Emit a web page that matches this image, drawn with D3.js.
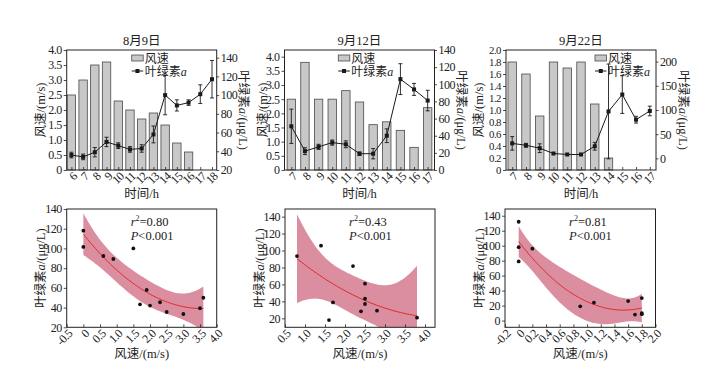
<!DOCTYPE html>
<html>
<head>
<meta charset="utf-8">
<script src="https://cdn.jsdelivr.net/npm/d3@7"></script>
<style>
  body { margin: 0; background: #fff; }
  text { font-family: "Liberation Serif", "Times New Roman", "Noto Sans CJK SC", serif; fill: #222; }
</style>
</head>
<body>
<script>
// ---- data ----
const days = ['8月9日', '9月12日', '9月22日']

// top row: hourly wind speed (bars) and chlorophyll a (line, with error)
const hours0809 = [6, 7, 8, 9, 10, 11, 12, 13, 14, 15, 16, 17, 18]
const wind0809 = [2.5, 3.0, 3.5, 3.6, 2.3, 2.0, 1.7, 1.9, 1.5, 0.9, 0.6, 0, 0]
const chl0809 = [36, 34, 39, 50, 46, 42, 43, 58, 100, 89, 92, 101, 117]
const err0809 = [3, 3, 5, 5, 3, 3, 4, 9, 21, 6, 3, 10, 20]

const hours0912 = [7, 8, 9, 10, 11, 12, 13, 14, 15, 16, 17]
const wind0912 = [2.5, 3.8, 2.5, 2.5, 2.8, 2.4, 1.6, 1.7, 1.4, 0.8, 2.2]
const chl0912 = [51, 22, 27, 32, 30, 19, 19, 40, 106, 94, 81]
const err0912 = [20, 4, 3, 3, 4, 2, 6, 8, 18, 7, 12]

const hours0922 = [7, 8, 9, 10, 11, 12, 13, 14, 15, 16, 17]
const wind0922 = [1.8, 1.6, 0.9, 1.8, 1.7, 1.8, 1.1, 0.2, 0, 0, 0]
const chl0922 = [31, 27, 21, 10, 8, 8, 25, 97, 132, 80, 98]
const err0922 = [14, 4, 9, 0, 0, 0, 8, 98, 39, 7, 10]

// bottom row: scatter points (wind, chlorophyll a)
const sWind0809 = [0, 0, 0.6, 0.9, 1.5, 1.7, 1.9, 2.0, 2.3, 2.5, 3.0, 3.5, 3.6]
const sChl0809 = [118, 101.5, 92.3, 89.3, 100, 43.3, 57.9, 42, 45.4, 35.5, 33.5, 39.3, 50]
const sWind0912 = [0.8, 1.4, 1.7, 1.6, 2.2, 2.5, 2.5, 2.5, 2.4, 2.8, 3.8]
const sChl0912 = [93.5, 105.7, 38.8, 17.9, 81.7, 60.9, 43.1, 36.9, 28.2, 29, 20.7]
const sWind0922 = [0, 0, 0, 0.2, 0.9, 1.1, 1.6, 1.7, 1.8, 1.8, 1.8]
const sChl0922 = [132, 98, 79, 96, 19, 24, 26, 8, 30, 8.5, 10]

const r2Labels = ['0.80', '0.43', '0.81']
const pLabel = '<0.001'

// axis ticks
const windTicksTop = [
  [0, 0.5, 1.0, 1.5, 2.0, 2.5, 3.0, 3.5, 4.0],
  [0, 0.5, 1.0, 1.5, 2.0, 2.5, 3.0, 3.5, 4.0],
  [0, 0.2, 0.4, 0.6, 0.8, 1.0, 1.2, 1.4, 1.6, 1.8, 2.0]
]
const chlTicksTop = [
  [20, 40, 60, 80, 100, 120, 140],
  [0, 20, 40, 60, 80, 100, 120, 140],
  [0, 50, 100, 150, 200]
]
const windTicksBot = [
  [-0.5, 0, 0.5, 1.0, 1.5, 2.0, 2.5, 3.0, 3.5, 4.0],
  [0.5, 1.0, 1.5, 2.0, 2.5, 3.0, 3.5, 4.0],
  [-0.2, 0, 0.2, 0.4, 0.6, 0.8, 1.0, 1.2, 1.4, 1.6, 1.8, 2.0]
]
const chlTicksBot = [
  [20, 40, 60, 80, 100, 120, 140],
  [20, 40, 60, 80, 100, 120, 140],
  [0, 20, 40, 60, 80, 100, 120, 140]
]

const hours = [hours0809, hours0912, hours0922]
const wind = [wind0809, wind0912, wind0922]
const chl = [chl0809, chl0912, chl0922]
const err = [err0809, err0912, err0922]
const sWind = [sWind0809, sWind0912, sWind0922]
const sChl = [sChl0809, sChl0912, sChl0922]

// ---- layout ----
const width = 722, height = 370
const topY = [170, 50], botY = [327.3, 209]
const topX = [[66.7, 216.7], [284.5, 434.5], [506, 656]]
const botX = [[66.7, 216.7], [285, 435], [505, 655.5]]
const topPad = [0.4, 0.5, 0.45]
const windDomTop = [[0, 4.0], [0, 4.235], [0, 2.0]]
const chlDomTop = [[20, 148.2], [0, 140], [-24.1, 224.1]]
const windDomBot = [[-0.5, 4.0], [0.5, 4.25], [-0.2, 2.0]]
const chlDomBot = [[20, 140], [9.4, 149], [-9, 149]]
const legendX = [131.7, 338.3, 595]
const leftLabelX = [45, 267, 483]
const leftTickSize = ['12px', '12px', '10.8px']
const t95 = {7: 2.365, 8: 2.306, 10: 2.228}

const fmt = d => d === 0 ? '0' : (Number.isInteger(d) && Math.abs(d) >= 10 ? String(d) : d.toFixed(1))
const fmtInt = d => String(d)

let svg = d3.select('body').append('svg')
  .attr('width', width)
  .attr('height', height)

svg.append('rect').attr('width', width).attr('height', height).attr('fill', '#fff')

function styleAxis(g, size = '12px') {
  g.select('.domain').remove()
  g.selectAll('line').attr('stroke', '#222').attr('stroke-width', 0.8)
  g.selectAll('text').style('font-size', size).style('letter-spacing', '-0.5px').attr('fill', '#222')
}

function rotateLabels(g) {
  g.selectAll('text')
    .attr('x', 0).attr('y', 0).attr('dy', 0)
    .attr('transform', 'translate(6,7) rotate(-45)')
    .style('text-anchor', 'end')
}

function chlLabel(sel) {
  sel.append('tspan').text('叶绿素')
  sel.append('tspan').style('font-style', 'italic').text('a')
  sel.append('tspan').text('/(μg/L)')
}

// ---- top row: bars + chlorophyll line ----
function drawTop(i) {
  const [x0, x1] = topX[i]
  const g = svg.append('g')
  const x = d3.scalePoint().domain(hours[i]).range([x0, x1]).padding(topPad[i])
  const yL = d3.scaleLinear().domain(windDomTop[i]).range(topY)
  const yR = d3.scaleLinear().domain(chlDomTop[i]).range(topY)
  const rows = hours[i].map((h, j) => ({h, w: wind[i][j], c: chl[i][j], e: err[i][j]}))

  g.selectAll('rect.bar').data(rows.filter(d => d.w > 0)).join('rect')
    .attr('x', d => x(d.h) - 4.2)
    .attr('width', 8.4)
    .attr('y', d => yL(d.w))
    .attr('height', d => yL(0) - yL(d.w))
    .attr('fill', '#c8c8c8')
    .attr('stroke', '#4a4a4a')
    .attr('stroke-width', 0.8)

  g.append('path').datum(rows)
    .attr('d', d3.line().x(d => x(d.h)).y(d => yR(d.c)))
    .attr('fill', 'none').attr('stroke', '#1a1a1a').attr('stroke-width', 1)

  let eb = g.selectAll('g.eb').data(rows.filter(d => d.e > 0)).join('g')
  eb.append('line')
    .attr('x1', d => x(d.h)).attr('x2', d => x(d.h))
    .attr('y1', d => yR(d.c - d.e)).attr('y2', d => yR(d.c + d.e))
  eb.append('line')
    .attr('x1', d => x(d.h) - 2).attr('x2', d => x(d.h) + 2)
    .attr('y1', d => yR(d.c - d.e)).attr('y2', d => yR(d.c - d.e))
  eb.append('line')
    .attr('x1', d => x(d.h) - 2).attr('x2', d => x(d.h) + 2)
    .attr('y1', d => yR(d.c + d.e)).attr('y2', d => yR(d.c + d.e))
  eb.selectAll('line').attr('stroke', '#1a1a1a').attr('stroke-width', 0.9)

  g.selectAll('rect.mk').data(rows).join('rect')
    .attr('x', d => x(d.h) - 2).attr('y', d => yR(d.c) - 2)
    .attr('width', 4).attr('height', 4).attr('fill', '#1a1a1a')

  // frame
  g.append('rect').attr('x', x0).attr('y', topY[1])
    .attr('width', x1 - x0).attr('height', topY[0] - topY[1])
    .attr('fill', 'none').attr('stroke', '#222').attr('stroke-width', 1)

  let gx = g.append('g').attr('transform', `translate(0,${topY[0]})`)
    .call(d3.axisBottom(x).tickSizeInner(-3).tickSizeOuter(0))
  styleAxis(gx); rotateLabels(gx)
  let gl = g.append('g').attr('transform', `translate(${x0},0)`)
    .call(d3.axisLeft(yL).tickValues(windTicksTop[i]).tickFormat(fmt).tickSize(3).tickPadding(2))
  styleAxis(gl, leftTickSize[i])
  let gr = g.append('g').attr('transform', `translate(${x1},0)`)
    .call(d3.axisRight(yR).tickValues(chlTicksTop[i]).tickFormat(fmtInt).tickSize(2.5).tickPadding(1.5))
  styleAxis(gr)

  // titles
  const cx = (x0 + x1) / 2
  g.append('text').attr('x', cx).attr('y', 44.5).attr('text-anchor', 'middle')
    .style('font-size', '12.5px').text(days[i])
  g.append('text').attr('x', cx).attr('y', 198).attr('text-anchor', 'middle')
    .style('font-size', '12.5px').text('时间/h')
  g.append('text').attr('transform', `translate(${leftLabelX[i]},110) rotate(-90)`)
    .attr('text-anchor', 'middle').style('font-size', '12.5px').text('风速/(m/s)')
  g.append('text').attr('transform', `translate(${x1 + 22.5},110) rotate(90)`)
    .attr('text-anchor', 'middle').style('font-size', '12.5px').call(chlLabel)

  // legend
  const lx = legendX[i]
  g.append('rect').attr('x', lx).attr('y', 55).attr('width', 11.5).attr('height', 6)
    .attr('fill', '#c8c8c8').attr('stroke', '#4a4a4a').attr('stroke-width', 0.8)
  g.append('text').attr('x', lx + 13).attr('y', 62.5).style('font-size', '12px').text('风速')
  g.append('line').attr('x1', lx).attr('x2', lx + 11.5).attr('y1', 71).attr('y2', 71)
    .attr('stroke', '#1a1a1a').attr('stroke-width', 1)
  g.append('rect').attr('x', lx + 3.75).attr('y', 69).attr('width', 4).attr('height', 4).attr('fill', '#1a1a1a')
  let lt = g.append('text').attr('x', lx + 13).attr('y', 75.5).style('font-size', '12px')
  lt.append('tspan').text('叶绿素')
  lt.append('tspan').style('font-style', 'italic').text('a')
}

// quadratic least squares with 95% confidence band
function quadFit(xs, ys) {
  const S = [[0, 0, 0], [0, 0, 0], [0, 0, 0]], b = [0, 0, 0]
  xs.forEach((xv, k) => {
    const r = [1, xv, xv * xv]
    for (let a = 0; a < 3; a++) {
      b[a] += r[a] * ys[k]
      for (let c = 0; c < 3; c++) S[a][c] += r[a] * r[c]
    }
  })
  const [[a, bb, c], [d, e, f], [gg, h, ii]] = S
  const det = a * (e * ii - f * h) - bb * (d * ii - f * gg) + c * (d * h - e * gg)
  const inv = [
    [(e * ii - f * h) / det, (c * h - bb * ii) / det, (bb * f - c * e) / det],
    [(f * gg - d * ii) / det, (a * ii - c * gg) / det, (c * d - a * f) / det],
    [(d * h - e * gg) / det, (bb * gg - a * h) / det, (a * e - bb * d) / det]
  ]
  const beta = inv.map(row => row[0] * b[0] + row[1] * b[1] + row[2] * b[2])
  const pred = xv => beta[0] + beta[1] * xv + beta[2] * xv * xv
  const sse = d3.sum(xs, (xv, k) => (ys[k] - pred(xv)) ** 2)
  const df = xs.length - 3
  const s2 = sse / df
  const t = t95[df] || 2.3
  const half = xv => {
    const r = [1, xv, xv * xv]
    let q = 0
    for (let m = 0; m < 3; m++) for (let n = 0; n < 3; n++) q += r[m] * inv[m][n] * r[n]
    return t * Math.sqrt(s2 * q)
  }
  return {pred, half}
}

// ---- bottom row: scatter + fit ----
function drawBottom(i) {
  const [x0, x1] = botX[i]
  const g = svg.append('g')
  const x = d3.scaleLinear().domain(windDomBot[i]).range([x0, x1])
  const y = d3.scaleLinear().domain(chlDomBot[i]).range(botY)
  const fit = quadFit(sWind[i], sChl[i])
  const [lo, hi] = d3.extent(sWind[i])
  const xsFit = d3.range(0, 81).map(k => lo + (hi - lo) * k / 80)

  const clip = g.append('clipPath').attr('id', 'clip' + i)
  clip.append('rect').attr('x', x0).attr('y', botY[1]).attr('width', x1 - x0).attr('height', botY[0] - botY[1])

  g.append('path').datum(xsFit)
    .attr('clip-path', `url(#clip${i})`)
    .attr('d', d3.area().x(d => x(d)).y0(d => y(fit.pred(d) - fit.half(d))).y1(d => y(fit.pred(d) + fit.half(d))))
    .attr('fill', '#dc8ea1')
  g.append('path').datum(xsFit)
    .attr('clip-path', `url(#clip${i})`)
    .attr('d', d3.line().x(d => x(d)).y(d => y(fit.pred(d))))
    .attr('fill', 'none').attr('stroke', '#e02a2a').attr('stroke-width', 1)

  g.selectAll('circle').data(sWind[i].map((w, j) => [w, sChl[i][j]])).join('circle')
    .attr('cx', d => x(d[0])).attr('cy', d => y(d[1])).attr('r', 1.9).attr('fill', '#111')

  g.append('rect').attr('x', x0).attr('y', botY[1])
    .attr('width', x1 - x0).attr('height', botY[0] - botY[1])
    .attr('fill', 'none').attr('stroke', '#222').attr('stroke-width', 1)

  let gx = g.append('g').attr('transform', `translate(0,${botY[0]})`)
    .call(d3.axisBottom(x).tickValues(windTicksBot[i]).tickFormat(fmt).tickSizeInner(-3).tickSizeOuter(0))
  styleAxis(gx); rotateLabels(gx)
  let gy = g.append('g').attr('transform', `translate(${x0},0)`)
    .call(d3.axisLeft(y).tickValues(chlTicksBot[i]).tickFormat(fmtInt).tickSize(3).tickPadding(2))
  styleAxis(gy)

  const cx = (x0 + x1) / 2
  g.append('text').attr('x', cx).attr('y', 358).attr('text-anchor', 'middle')
    .style('font-size', '12.5px').text('风速/(m/s)')
  g.append('text').attr('transform', `translate(${x0 - 21.5},${(botY[0] + botY[1]) / 2}) rotate(-90)`)
    .attr('text-anchor', 'middle').style('font-size', '12.5px').call(chlLabel)

  let st = g.append('text').attr('x', x0 + 64).attr('y', 226).style('font-size', '12.5px')
  st.append('tspan').style('font-style', 'italic').text('r')
  st.append('tspan').attr('dy', -5).style('font-size', '8px').text('2')
  st.append('tspan').attr('dy', 5).text('=' + r2Labels[i])
  let sp = g.append('text').attr('x', x0 + 64).attr('y', 240).style('font-size', '12.5px')
  sp.append('tspan').style('font-style', 'italic').text('P')
  sp.append('tspan').text(pLabel)
}

for (let i = 0; i < 3; i++) { drawTop(i); drawBottom(i) }
</script>
</body>
</html>
